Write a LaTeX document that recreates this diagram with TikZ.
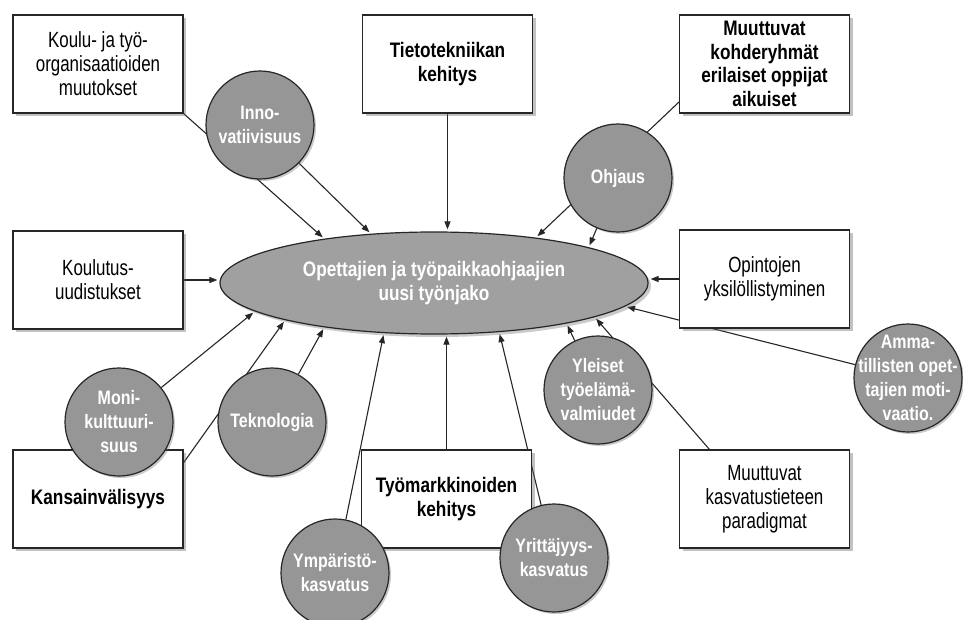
\documentclass[tikz,border=0pt]{standalone}
\usepackage{fontspec}
\setmainfont{Liberation Sans}
\newfontfamily\plainfont{Liberation Sans}[FakeStretch=0.77]
\newfontfamily\boldfont{Liberation Sans}[FakeStretch=0.82]
\usetikzlibrary{arrows.meta,shapes.geometric,shadows,backgrounds}

\definecolor{bubblegray}{RGB}{150,150,150}
\definecolor{hubgray}{RGB}{160,160,160}

\begin{document}
\begin{tikzpicture}[x=1pt, y=-1pt,
    box/.style={draw=black!85, line width=1.2pt, fill=white, minimum width=170pt, minimum height=98pt,
        inner sep=0pt, align=center, font=\plainfont\fontsize{22}{24}\selectfont,
        drop shadow={shadow xshift=3pt, shadow yshift=-3pt, fill=black!60, opacity=.4}},
    boldbox/.style={box, font=\boldfont\bfseries\fontsize{21}{23.7}\selectfont},
    bubble/.style={circle, draw=black!85, line width=1.2pt, fill=bubblegray, minimum size=108pt,
        inner sep=-16pt, align=center, text=white, font=\boldfont\bfseries\fontsize{19.5}{24}\selectfont,
        drop shadow={shadow xshift=2pt, shadow yshift=-2pt, fill=black!60, opacity=.35}},
    hub/.style={ellipse, draw=black!85, line width=1.2pt, fill=hubgray, minimum width=428pt, minimum height=102pt,
        inner sep=0pt, align=center, text=white, font=\boldfont\bfseries\fontsize{21}{24}\selectfont,
        drop shadow={shadow xshift=3pt, shadow yshift=-3pt, fill=black!60, opacity=.35}},
    link/.style={line width=1.1pt, draw=black!85, -{Triangle[length=8pt,width=6pt]}, shorten >=2pt}]
    \useasboundingbox (0,0) rectangle (963,620);

    \node[hub] (main) at (434,283) {Opettajien ja työpaikkaohjaajien\\uusi työnjako};

    \node[box] (koulu) at (98,64) {Koulu- ja työ-\\organisaatioiden\\muutokset};
    \node[boldbox] (tieto) at (447.5,64) {Tietotekniikan\\kehitys};
    \node[boldbox] (kohde) at (764.5,64) {Muuttuvat\\kohderyhmät\\erilaiset oppijat\\aikuiset};
    \node[box] (uudist) at (98,280) {Koulutus-\\uudistukset};
    \node[box] (opinto) at (764.5,279) {Opintojen\\yksilöllistyminen};
    \node[boldbox] (kansain) at (98,499) {Kansainvälisyys};
    \node[boldbox] (tyomark) at (446.5,499) {Työmarkkinoiden\\kehitys};
    \node[box] (kasvat) at (764.5,499) {Muuttuvat\\kasvatustieteen\\paradigmat};

    \node[bubble] (innov) at (260,125) {Inno-\\vatiivisuus};
    \node[bubble] (ohjaus) at (618,178) {Ohjaus};
    \node[bubble] (moni) at (119,422) {Moni-\\kulttuuri-\\suus};
    \node[bubble] (tekno) at (272,422) {Teknologia};
    \node[bubble] (ymp) at (335,573) {Ympäristö-\\kasvatus};
    \node[bubble] (yritt) at (554,558) {Yrittäjyys-\\kasvatus};
    \node[bubble] (yleiset) at (598,390) {Yleiset\\työelämä-\\valmiudet};
    \node[bubble] (ammat) at (908,378) {Amma-\\tillisten opet-\\tajien moti-\\vaatio.};

    \begin{scope}[on background layer]
        \draw[link] (koulu.south east) -- (main.158);
        \draw[link] (innov) -- (main.142);
        \draw[link] (tieto.south) -- (tieto.south |- main.north);
        \draw[link] (kohde.204) -- (main.24);
        \draw[link] (ohjaus) -- (main.13);
        \draw[link] (uudist.east) -- (uudist.east -| main.west);
        \draw[link] (opinto.west) -- (opinto.west -| main.east);
        \draw[link] (ammat) -- (main.353);
        \draw[link] (kasvat.138) -- (main.348);
        \draw[link] (yleiset) -- (main.343);
        \draw[link] (tyomark.north) -- (tyomark.north |- main.south);
        \draw[link] (ymp) -- (main.225);
        \draw[link] (yritt) -- (main.323);
        \draw[link] (kansain.23) -- (main.194);
        \draw[link] (moni) -- (main.189);
        \draw[link] (tekno) -- (main.202);
    \end{scope}
\end{tikzpicture}
\end{document}
